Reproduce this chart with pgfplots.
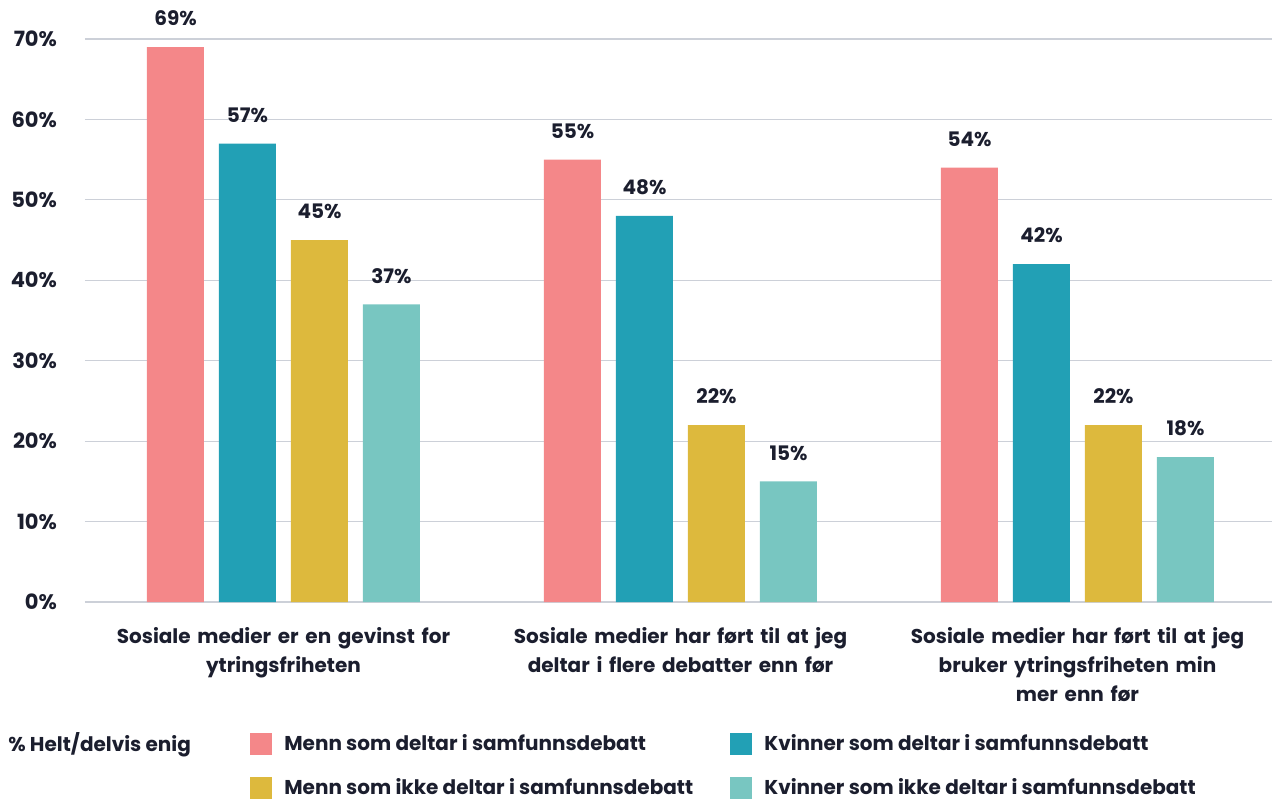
\documentclass[border=0pt]{standalone}
\usepackage{pgfplots}
\pgfplotsset{compat=1.18}
\usepackage{fontspec}
\setmainfont{Poppins}
\definecolor{cpink}{HTML}{F48789}
\definecolor{cteal}{HTML}{22A0B5}
\definecolor{cyel}{HTML}{DDB93D}
\definecolor{clt}{HTML}{78C6C1}
\definecolor{ctxt}{HTML}{1B1E2E}
\definecolor{cgrid}{HTML}{CCD0D8}
\begin{document}
\begin{tikzpicture}
\path[use as bounding box] (0,0) rectangle (636bp,400bp);
\begin{axis}[
  at={(42.5bp,99bp)}, anchor=south west,
  width=593.5bp, height=281.5bp, scale only axis,
  ybar=7.5bp, bar width=28.5bp,
  xmin=-0.5, xmax=2.49, ymin=0, ymax=70,
  axis line style={draw=none},
  ytick={0,10,...,70},
  ymajorgrids, major grid style={cgrid, line width=0.6bp},
  major tick length=0pt,
  xtick={0,1,2},
  xticklabels={{Sosiale medier er en gevinst for\\ytringsfriheten},
    {Sosiale medier har ført til at jeg\\deltar i flere debatter enn før},
    {Sosiale medier har ført til at jeg\\bruker ytringsfriheten min\\mer enn før}},
  xticklabel style={text width=200bp, align=center, font=\fontsize{10bp}{14.5bp}\selectfont\bfseries, text=ctxt, yshift=-9bp},
  yticklabel={\pgfmathparse{int(\tick)}\pgfmathresult\%},
  yticklabel style={font=\fontsize{10.5bp}{12bp}\selectfont\bfseries, text=ctxt, xshift=-10.5bp},
  /pgf/number format/assume math mode=true,
  nodes near coords={\pgfmathprintnumber{\pgfplotspointmeta}\%},
  every node near coord/.append style={font=\fontsize{10bp}{12bp}\selectfont\bfseries, text=ctxt, yshift=7bp},
  clip=false,
  legend columns=2,
  legend style={at={(0.139,-0.228)}, anchor=north west, draw=none, inner sep=0pt, fill=none,
    font=\fontsize{10bp}{12bp}\selectfont\bfseries, text=ctxt,
    /tikz/every even column/.append style={column sep=0pt},
    row sep=8.5bp},
  legend image code/.code={\fill[#1, draw=none] (0bp,-5.5bp) rectangle (11bp,5.5bp);},
  legend cell align=left,
]
\addplot[fill=cpink, draw=none] coordinates {(0,69) (1,55) (2,54)};
\addplot[fill=cteal, draw=none] coordinates {(0,57) (1,48) (2,42)};
\addplot[fill=cyel, draw=none] coordinates {(0,45) (1,22) (2,22)};
\addplot[fill=clt, draw=none] coordinates {(0,37) (1,15) (2,18)};
\legend{\makebox[225bp][l]{\hspace*{4bp}Menn som deltar i samfunnsdebatt},
        {\hspace*{4bp}Kvinner som deltar i samfunnsdebatt},
        \makebox[225bp][l]{\hspace*{4bp}Menn som ikke deltar i samfunnsdebatt},
        {\hspace*{4bp}Kvinner som ikke deltar i samfunnsdebatt}}
\node[anchor=west, font=\fontsize{10bp}{12bp}\selectfont\bfseries, text=ctxt, inner sep=0pt] at (axis description cs:-0.0649,-0.254) {\% Helt/delvis enig};
\end{axis}
\end{tikzpicture}
\end{document}
